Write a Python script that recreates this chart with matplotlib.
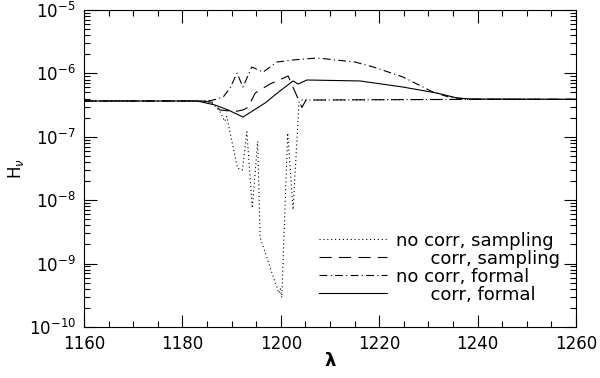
import numpy as np
import matplotlib
matplotlib.use('Agg')
from matplotlib import pyplot as plt
from matplotlib.ticker import MultipleLocator, LogLocator, NullFormatter

# wavelength / flux
lam_dot = [1160, 1185, 1186.2, 1187.5, 1188.6, 1189.0, 1191.2, 1192.2, 1193.1,
           1194.2, 1195.3, 1195.8, 1198.9, 1199.2, 1199.6, 1199.9, 1200.2,
           1201.4, 1202.5, 1203.7, 1204.2, 1240, 1260]
h_dot = [3.67e-7, 3.67e-7, 3.3e-7, 2.6e-7, 1.75e-7, 2.1e-7, 3.2e-8, 3.0e-8, 1.2e-7,
         7.5e-9, 8.5e-8, 2.6e-9, 4.9e-10, 4.3e-10, 3.4e-10, 4.0e-10, 2.9e-10,
         1.15e-7, 7.1e-9, 3.5e-7, 3.8e-7, 3.9e-7, 3.9e-7]

lam_dash = [1160, 1184, 1186.2, 1187.6, 1190.7, 1192.3, 1193.3, 1194.8, 1197.8,
            1201.5, 1202.5, 1204.3, 1205.1, 1240, 1260]
h_dash = [3.67e-7, 3.67e-7, 3.5e-7, 2.65e-7, 2.5e-7, 2.65e-7, 2.9e-7, 4.9e-7, 6.8e-7,
          9.1e-7, 6.0e-7, 2.9e-7, 3.8e-7, 3.9e-7, 3.9e-7]

lam_dd = [1160, 1185, 1186.2, 1188.3, 1189.7, 1191.1, 1192.3, 1194.1, 1196.4,
          1199.2, 1202.5, 1207.4, 1215.1, 1218.7, 1224.8, 1230.9, 1234.3, 1238.5, 1260]
h_dd = [3.67e-7, 3.67e-7, 3.79e-7, 4.25e-7, 5.9e-7, 1.01e-6, 6.1e-7, 1.26e-6, 1.05e-6,
        1.51e-6, 1.63e-6, 1.75e-6, 1.51e-6, 1.27e-6, 8.8e-7, 5.1e-7, 4.2e-7, 3.9e-7, 3.9e-7]

lam_sol = [1160, 1183, 1186.6, 1189.3, 1192.3, 1196.8, 1199.8, 1202.5, 1203.5,
           1205.3, 1216.1, 1224.8, 1231.7, 1235.8, 1238.5, 1260]
h_sol = [3.67e-7, 3.67e-7, 3.18e-7, 2.65e-7, 2.05e-7, 3.41e-7, 5.27e-7, 7.6e-7, 6.8e-7,
         7.87e-7, 7.6e-7, 6.1e-7, 4.9e-7, 4.1e-7, 3.95e-7, 3.9e-7]

labels = ['no corr, sampling', '      corr, sampling', 'no corr, formal', '      corr, formal']

plt.rcParams['font.family'] = ['DejaVu Sans']
fig = plt.figure(figsize=(6, 3.78), dpi=100)
ax = fig.add_axes([0.14, 0.135, 0.82, 0.8385])

lw = 0.8
ax.plot(lam_dot, h_dot, color='k', lw=lw, linestyle=(0, (1, 2.5)), label=labels[0])
ax.plot(lam_dash, h_dash, color='k', lw=lw, linestyle=(0, (11, 6.5)), label=labels[1])
ax.plot(lam_dd, h_dd, color='k', lw=lw, linestyle=(0, (7, 3, 1, 3)), label=labels[2])
ax.plot(lam_sol, h_sol, color='k', lw=lw, linestyle='-', label=labels[3])

ax.set_yscale('log')
ax.set_xlim(1160, 1260)
ax.set_ylim(1e-10, 1e-5)
ax.xaxis.set_major_locator(MultipleLocator(20))
ax.xaxis.set_minor_locator(MultipleLocator(5))
ax.yaxis.set_major_locator(LogLocator(base=10, numticks=10))
ax.yaxis.set_minor_locator(LogLocator(base=10, subs=np.arange(2, 10), numticks=20))
ax.yaxis.set_minor_formatter(NullFormatter())
ax.tick_params(which='both', direction='in', top=True, right=True, labelsize=12, width=0.8)
ax.tick_params(which='major', length=9, pad=6)
ax.tick_params(which='minor', length=4.5)
for s in ax.spines.values():
    s.set_linewidth(0.8)

ax.set_xlabel('λ', fontsize=13, fontweight='bold', labelpad=-1)
ax.set_ylabel(r'H$_{\nu}$', fontsize=12, labelpad=2)

ax.legend(loc='lower right', bbox_to_anchor=(0.985, 0.045), frameon=False, fontsize=13,
          handlelength=3.8, handletextpad=0.45, labelspacing=0.0, borderpad=0)

fig.savefig('out.png', dpi=100)
